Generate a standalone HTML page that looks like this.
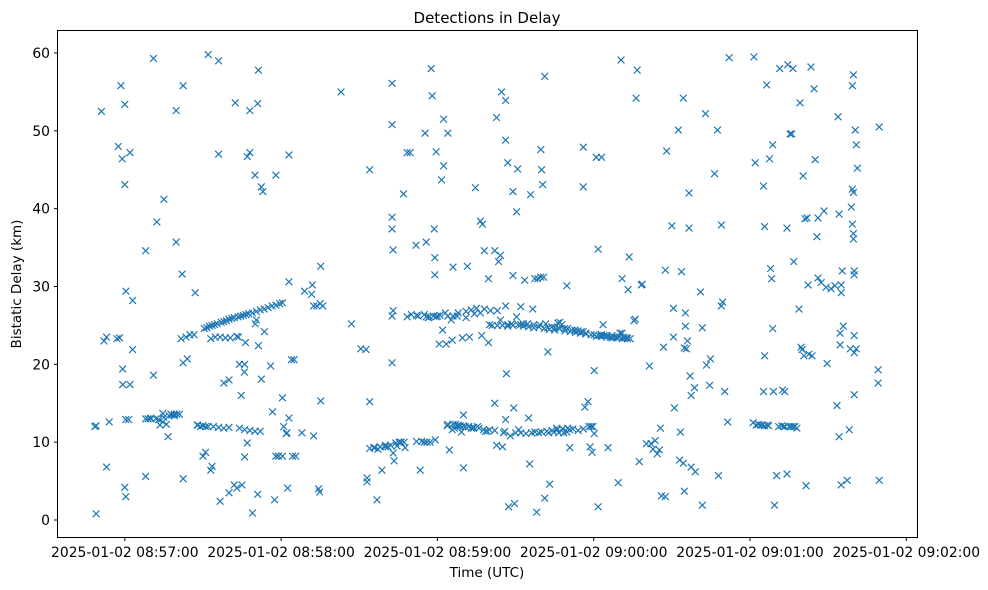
<!DOCTYPE html>
<html><head><meta charset="utf-8"><style>
html,body{margin:0;padding:0;background:#fff;}
svg{display:block;font-family:"DejaVu Sans","Liberation Sans",sans-serif;}
</style></head><body>
<svg id="chart" width="988" height="590" viewBox="0 0 988 590" xmlns="http://www.w3.org/2000/svg">
<rect x="0" y="0" width="988" height="590" fill="#fff"/>
<text x="487" y="23" font-size="15" text-anchor="middle" fill="#000">Detections in Delay</text>
<g id="marks"></g>
<rect x="57.5" y="30.5" width="860" height="507" fill="none" stroke="#000" stroke-width="1"/>
<g id="xticks"></g>
<g id="yticks"></g>
<text x="487" y="577" font-size="13.5" text-anchor="middle">Time (UTC)</text>
<text x="21" y="284" font-size="13.5" text-anchor="middle" transform="rotate(-90 21 284)">Bistatic Delay (km)</text>
</svg>
<script>
// x tick values: seconds after 2025-01-02 08:57:00
const xTickValues = [0, 60, 120, 180, 240, 300];
const xTickLabels = ["2025-01-02 08:57:00","2025-01-02 08:58:00","2025-01-02 08:59:00","2025-01-02 09:00:00","2025-01-02 09:01:00","2025-01-02 09:02:00"];
const yTickValues = [0, 10, 20, 30, 40, 50, 60];
// detections: [seconds after 08:57:00, bistatic delay km]
const detections = [
[-11,0.8],[-11.5,12],[-11,12.1],[-9,52.5],[-8,23],[-7,23.5],[-7,6.8],[-6,12.6],[-3,23.3],[-2,23.4],[-2.5,48],[-1.5,55.8],[-1,46.4],[0,53.4],[0,43.1],[0.4,29.4],[-0.8,19.4],[-0.8,17.4],[0,4.2],[0.4,3],[0.4,12.9],[1.5,12.9],[2,47.2],[2,17.4],[3,28.2],[3,21.9],
[8,5.6],[8,34.6],[9,13],[10,13],[11,59.3],[11,18.6],[12.3,38.3],[13.5,12.2],[14.6,13.7],[15,41.2],[14.6,12.6],[16,12.3],[16.6,10.7],[17,13.4],[17.7,13.6],[19,13.6],[20,13.6],[19.7,52.6],[19.7,35.7],[21.6,23.3],[22,31.6],[22.4,55.8],[22.4,5.3],[22.4,20.2],[24,20.7],[23.5,23.5],[25,23.8],[26.6,23.8],[27,29.2],[27.8,12.2],[29,12],[30,12.1],[31,12],[32,59.8],
[8,13],[10,13.1],[12,13],[13,12.9],[15,13.2],[18,13.5],[19,13.4],[21,13.6],
[30,8.2],[31,8.7],[33,6.4],[33.5,6.9],[36,59],[36,47],[36.6,2.4],[38,17.6],[40,3.5],[40,18],[42,4.5],[42.4,53.6],[43,4.1],[44,20],[44.7,16],[45,4.5],[46,20],[46,8.1],[47,9.9],[47,46.7],[48,47.2],[48,52.6],[49,0.9],[50,44.3],[51,53.5],[51.3,57.8],[51,3.3],[52.4,18.1],[52.4,42.8],[53,42.2],[53.6,24.2],[51.3,22.4],[50.5,25.7],[50.1,25.2],[46.3,22.8],[45.9,19],[43.6,23.5],[43,23.6],[40.5,23.4],[38.6,23.4],[36.6,23.5],[34.7,23.5],[33,23.3],
[30.5,24.6],[31.5,24.7],[32.5,24.9],[33.5,25],[34.5,25.1],[35.5,25.2],[37,25.4],[38,25.5],[39,25.6],[40,25.8],[41,25.9],[42,26],[43.5,26.1],[44.5,26.2],[45.5,26.3],[46.5,26.4],[47.5,26.5],[49,26.6],[50.5,26.8],[52,27],[53.5,27.1],[55,27.3],[56.5,27.5],[58,27.6],[59.5,27.8],[60.5,27.9],
[28,12.2],[30,12.1],[32,12],[34,12],[36,11.9],[38,11.8],[40,11.9],[44,11.8],[46,11.6],[48,11.5],[50,11.4],[52,11.4],
[56,19.8],[56.7,13.9],[57.5,2.6],[58,44.3],[58,8.2],[59,8.2],[60.5,8.2],[60.5,15.7],[61,12],[62,11.1],[62.2,11.2],[62.5,4.1],[63,46.9],[63,30.6],[63,13.1],[64,20.6],[65,20.6],[64.4,8.2],[65.6,8.2],[68,11.2],[69,29.4],[71.7,29],[72,30.2],[72.5,10.8],[72.5,27.5],[73.7,27.5],[75,27.8],[75.2,32.6],[76,27.5],[74.4,4],[74.8,3.6],[75.2,15.3],
[83,55],[87,25.2],[90.6,22],[92.6,21.9],[93,5.4],[93,4.9],[94,45],[94,15.2],[95.6,9.3],[96.8,2.6],[97.2,9.1],[98,9.4],[98.7,6.4],[100,9.4],[101,9.4],[102,9.6],[102.6,56.1],[102.6,50.8],[102.6,38.9],[102.6,37.4],[103,34.7],[102.6,26.2],[103,26.9],[102.6,20.2],[103,8.6],[103.4,7.6],[104,9.9],[104.5,9.5],[105.3,10],[106,10],[107,41.9],[107.2,10],[107.6,9.3],[108.4,47.2],[108.4,26.1],[109.5,47.2],[111.8,35.3],[112.6,26.2],[113.4,6.4],[115,26.4],[115,10],[115.7,35.7],[115.7,26.1],[115.3,49.7],[116,10],[116.5,26],[117.2,10],[117.6,58],[118,54.5],[118.5,26.2],[118.8,37.4],[119.2,10.3],[119,31.5],[119,33.7],[119.5,47.3],[120,26.2],[120.7,22.6],[122,24.4],[121.6,43.7],[122.4,51.5],[122.4,45.5],[123,26.6],[123.4,22.6],[124,49.7],[123.8,12.1],[124.6,9],[124,26.2],[125.3,25.7],[125.7,23.1],[126,32.5],[125.7,11.6],[126.5,11.8],[127,12.3],[127.6,26.2],[128,12],[128.8,12.1],[129.2,11.3],[129.6,23.4],[130,6.7],[130,13.5],[130.7,12],[131,26],[131.5,32.6],[132,12],[132.3,23.5],[133,11.8],[133.8,11.8],[134.2,26.5],[134.6,42.7],[135.4,12],[136.5,26.6],[136.5,38.4],[137.3,38],[137,23.7],[137.7,11.6],[138.4,11.4],[138,34.6],[139.2,11.4],[139.6,31],[139.6,22.8],[140.4,26.9],[142,34.6],[142,15],[142.7,51.7],[142.7,9.6],[143,26.9],[143.5,33.2],[144.2,25.7],[144.2,34],[144.6,55],[145,9.4],[145.4,11.2],[145.8,11.4],[146.2,12.9],[146.2,27.5],[146.2,53.9],[146.2,48.8],[146.5,18.8],[147,45.9],[147,25.1],[147.3,1.7],[148,10.8],[148.5,25.2],[149,42.2],[149,31.4],[149.3,14.4],[149.6,2.1],[150.4,26.1],[150.4,39.6],[150.8,45.1],[151.2,11.6],[152,25.1],[152,27.4],[153,25.2],[153.5,30.8],[154.6,25.2],[155,13.1],[155.4,7.2],[155.8,41.8],[156.2,11.2],[156.6,27.1],[157,25.1],[157.4,31],[157.4,11.3],[158.1,1],[158.5,31],[158.9,11.2],[159.3,25.1],[159.7,47.6],[159.7,31.2],[160,45],[160.4,43.1],[160.8,31.2],[161.2,2.8],[161.2,57],[161.6,25.2],[162.4,21.6],[162.4,24.7],[163.1,4.6],[162.7,11.2],[163.9,24.8],[164.7,11.3],[165,24.7],[165.8,11.8],[166.2,25.3],[166.6,24.7],[166.6,11.2],[167,25.4],[167.8,25.1],[168.1,11.7],[168.5,11.2],[168.9,24.6],[169.7,30.1],[169.7,11.3],[170,24.6],[170.8,11.6],[170.8,9.3],[171.6,24.4],[172.8,24.4],[174,24.3],[175.2,24.2],[176,47.9],[176,42.8],[176,24.2],[176.6,14.5],[177,24],[177.8,15.2],[178.2,12],[178.6,9.4],[179,12],[179.4,8.7],[179.7,12],[180.2,11.1],[180.2,23.8],[180.2,19.2],
[94,9.2],[96,9.3],[98,9.4],[100,9.6],[106,10],[112,10.1],[114,10.1],[124,12.3],[126,12.3],[128,12.2],[130,12.1],[132,12],[134,11.9],[136,11.8],[140,11.6],[142,11.5],[150,11.2],[152,11.2],[154,11.1],[160,11.3],[162,11.4],[164,11.5],[166,11.6],[168,11.7],[170,11.8],[172,11.7],[174,11.5],[176,11.7],
[110,26.4],[112,26.3],[117,26.1],[119.5,26.1],[121,26.3],[126,26.2],[128,26.6],[131,26.8],[133,27],[135,27.2],[138,27.1],[140,25.1],[141,25],[143,25],[145,25],[147,24.9],[149,25],[151,25.1],[153,24.9],[155,24.8],[157,24.7],[159,24.8],[161,24.6],[163,24.5],[165,24.4],[167,24.6],[169,24.3],[171,24.2],[173,24.1],[175,24],[177,23.9],[179,23.8],[181,23.6],[183,23.6],[185,23.5],[187,23.4],[189,23.4],[191,23.3],[193,23.3],
[181,46.6],[181.7,34.8],[181.7,1.7],[182.1,23.7],[183,46.6],[183,23.8],[183.6,25.1],[184,23.7],[185.1,23.7],[185.5,9.3],[186.3,23.5],[187,23.7],[187.8,23.5],[188.6,23.5],[189.4,4.8],[189.7,23.5],[190.1,24],[190.5,59.1],[190.9,24],[190.9,31],[191.3,23.5],[192,23.4],[192.8,23.4],[193.2,29.6],[193.6,33.8],[194,23.3],[195.5,25.6],[195.9,25.8],[196.3,54.2],[196.7,57.8],[197.5,7.5],[198.3,30.2],[198.6,30.3],[200.2,9.8],[201.4,19.8],[202,9.8],[202.8,9.1],[203.6,10.2],[204.4,8.5],[205.2,9],[205.6,11.8],[206,3.1],[206.8,22.2],[207.5,32.1],[207.5,3],[208,47.4],[210,37.8],[210.6,27.2],[210.6,23.5],[211,14.4],[212.5,50.1],[213,7.7],[213.3,11.3],[213.7,31.9],[214.4,54.2],[214.4,7.3],[214.8,3.7],[214.8,22.1],[215.6,22],[215.2,24.9],[215.2,26.6],[216,23],[216.6,42],[216.6,37.5],[217,18.5],[217.4,16],[217.4,6.8],[218.7,17],[219,6.2],[221,29.3],[221.7,24.7],[221.7,1.9],[222.9,52.2],[223.3,19.9],[224.5,17.3],[224.8,20.7],[226.4,44.5],[227.5,50.1],[227.9,5.7],[229,27.5],[229,37.9],[229.5,28],[230.3,16.5],[231.4,12.6],[232,59.4],
[241.5,59.5],[241.2,12.5],[242,45.9],[242.4,12.2],[243.2,12.3],[244,12.2],[244.8,12.2],[245.2,16.5],[245.2,42.9],[245.6,12.1],[245.6,37.7],[245.6,21.1],[246.4,55.9],[246.7,12.2],[247.1,12.1],[247.5,46.4],[247.9,32.3],[248.3,31],[248.7,48.2],[248.7,24.6],[249,16.5],[249.4,1.9],[250.2,5.7],[251,12],[251.4,58],[252.2,12.1],[252.5,16.7],[253,12],[253.3,16.5],[253.4,12],[254.2,37.5],[254.2,5.9],[254.5,58.5],[255,12],[255.4,49.6],[255.7,12],[256,49.6],[256.5,12],[256.5,58],[256.8,33.2],[257.2,12],[258,11.8],[258.8,27.1],[259.2,53.6],[259.6,22.2],[260,21.9],[260.4,44.2],[260.7,21.1],[261.1,38.7],[261.9,38.8],[261.5,4.4],[262.3,30.2],[262.6,21.3],[263.4,58.2],[263.8,21.1],[264.6,55.4],[265,46.3],[265.7,36.4],[266.1,31.1],[266.1,38.8],[267.3,30.5],[268.4,39.7],[269.2,29.9],[269.6,20.1],[271.1,29.7],[272.6,30.1],[273.4,14.7],[273.8,51.8],[274.2,10.7],[274.2,39.3],[274.6,22.5],[274.6,24],[275,29.2],[275,30.2],[275,4.5],[275.4,32],[275.8,24.9],[277.3,5.1],[278.1,11.6],[278.5,22],[278.9,40.2],[279.3,38],[279.3,42.5],[279.7,42.1],[279.3,55.8],[279.7,57.2],[279.7,36.8],[279.7,36.1],[280,32],[280,31.5],[280,23.7],[280,21.5],[280,16.1],[280.4,50.1],[280.8,48.2],[281.2,45.2],[280.8,22],
[289.6,50.5],[289.2,19.3],[289.2,17.6],[289.6,5.1]
];
const NS='http://www.w3.org/2000/svg';
const X0=124.8, PXS=156.3/60;
function xScale(t){return X0+t*PXS;}
function yScale(v){return 520-v*(467/60);}
const marks=document.getElementById('marks');
detections.forEach(function(d){
  const cx=xScale(d[0]), cy=yScale(d[1]), r=3.4;
  const p=document.createElementNS(NS,'path');
  p.setAttribute('d','M'+(cx-r)+' '+(cy-r)+'L'+(cx+r)+' '+(cy+r)+'M'+(cx-r)+' '+(cy+r)+'L'+(cx+r)+' '+(cy-r));
  p.setAttribute('stroke','#1f77b4');
  p.setAttribute('stroke-width','1.2');
  p.setAttribute('fill','none');
  
  
  marks.appendChild(p);
});
const xt=document.getElementById('xticks');
xTickValues.forEach(function(v,i){
  const x=xScale(v);
  const l=document.createElementNS(NS,'line');
  l.setAttribute('x1',x);l.setAttribute('x2',x);l.setAttribute('y1',537.5);l.setAttribute('y2',541);
  l.setAttribute('stroke','#000');
  
  
  xt.appendChild(l);
  const t=document.createElementNS(NS,'text');
  t.setAttribute('x',x);t.setAttribute('y',557);t.setAttribute('font-size','13.9');t.setAttribute('text-anchor','middle');
  t.textContent=xTickLabels[i];
  
  
  xt.appendChild(t);
});
const yt=document.getElementById('yticks');
yTickValues.forEach(function(v){
  const y=yScale(v);
  const l=document.createElementNS(NS,'line');
  l.setAttribute('x1',54);l.setAttribute('x2',57.5);l.setAttribute('y1',y);l.setAttribute('y2',y);
  l.setAttribute('stroke','#000');
  
  
  yt.appendChild(l);
  const t=document.createElementNS(NS,'text');
  t.setAttribute('x',50);t.setAttribute('y',y+5);t.setAttribute('font-size','13.9');t.setAttribute('text-anchor','end');
  t.textContent=String(v);
  
  
  yt.appendChild(t);
});
</script>
</body></html>
